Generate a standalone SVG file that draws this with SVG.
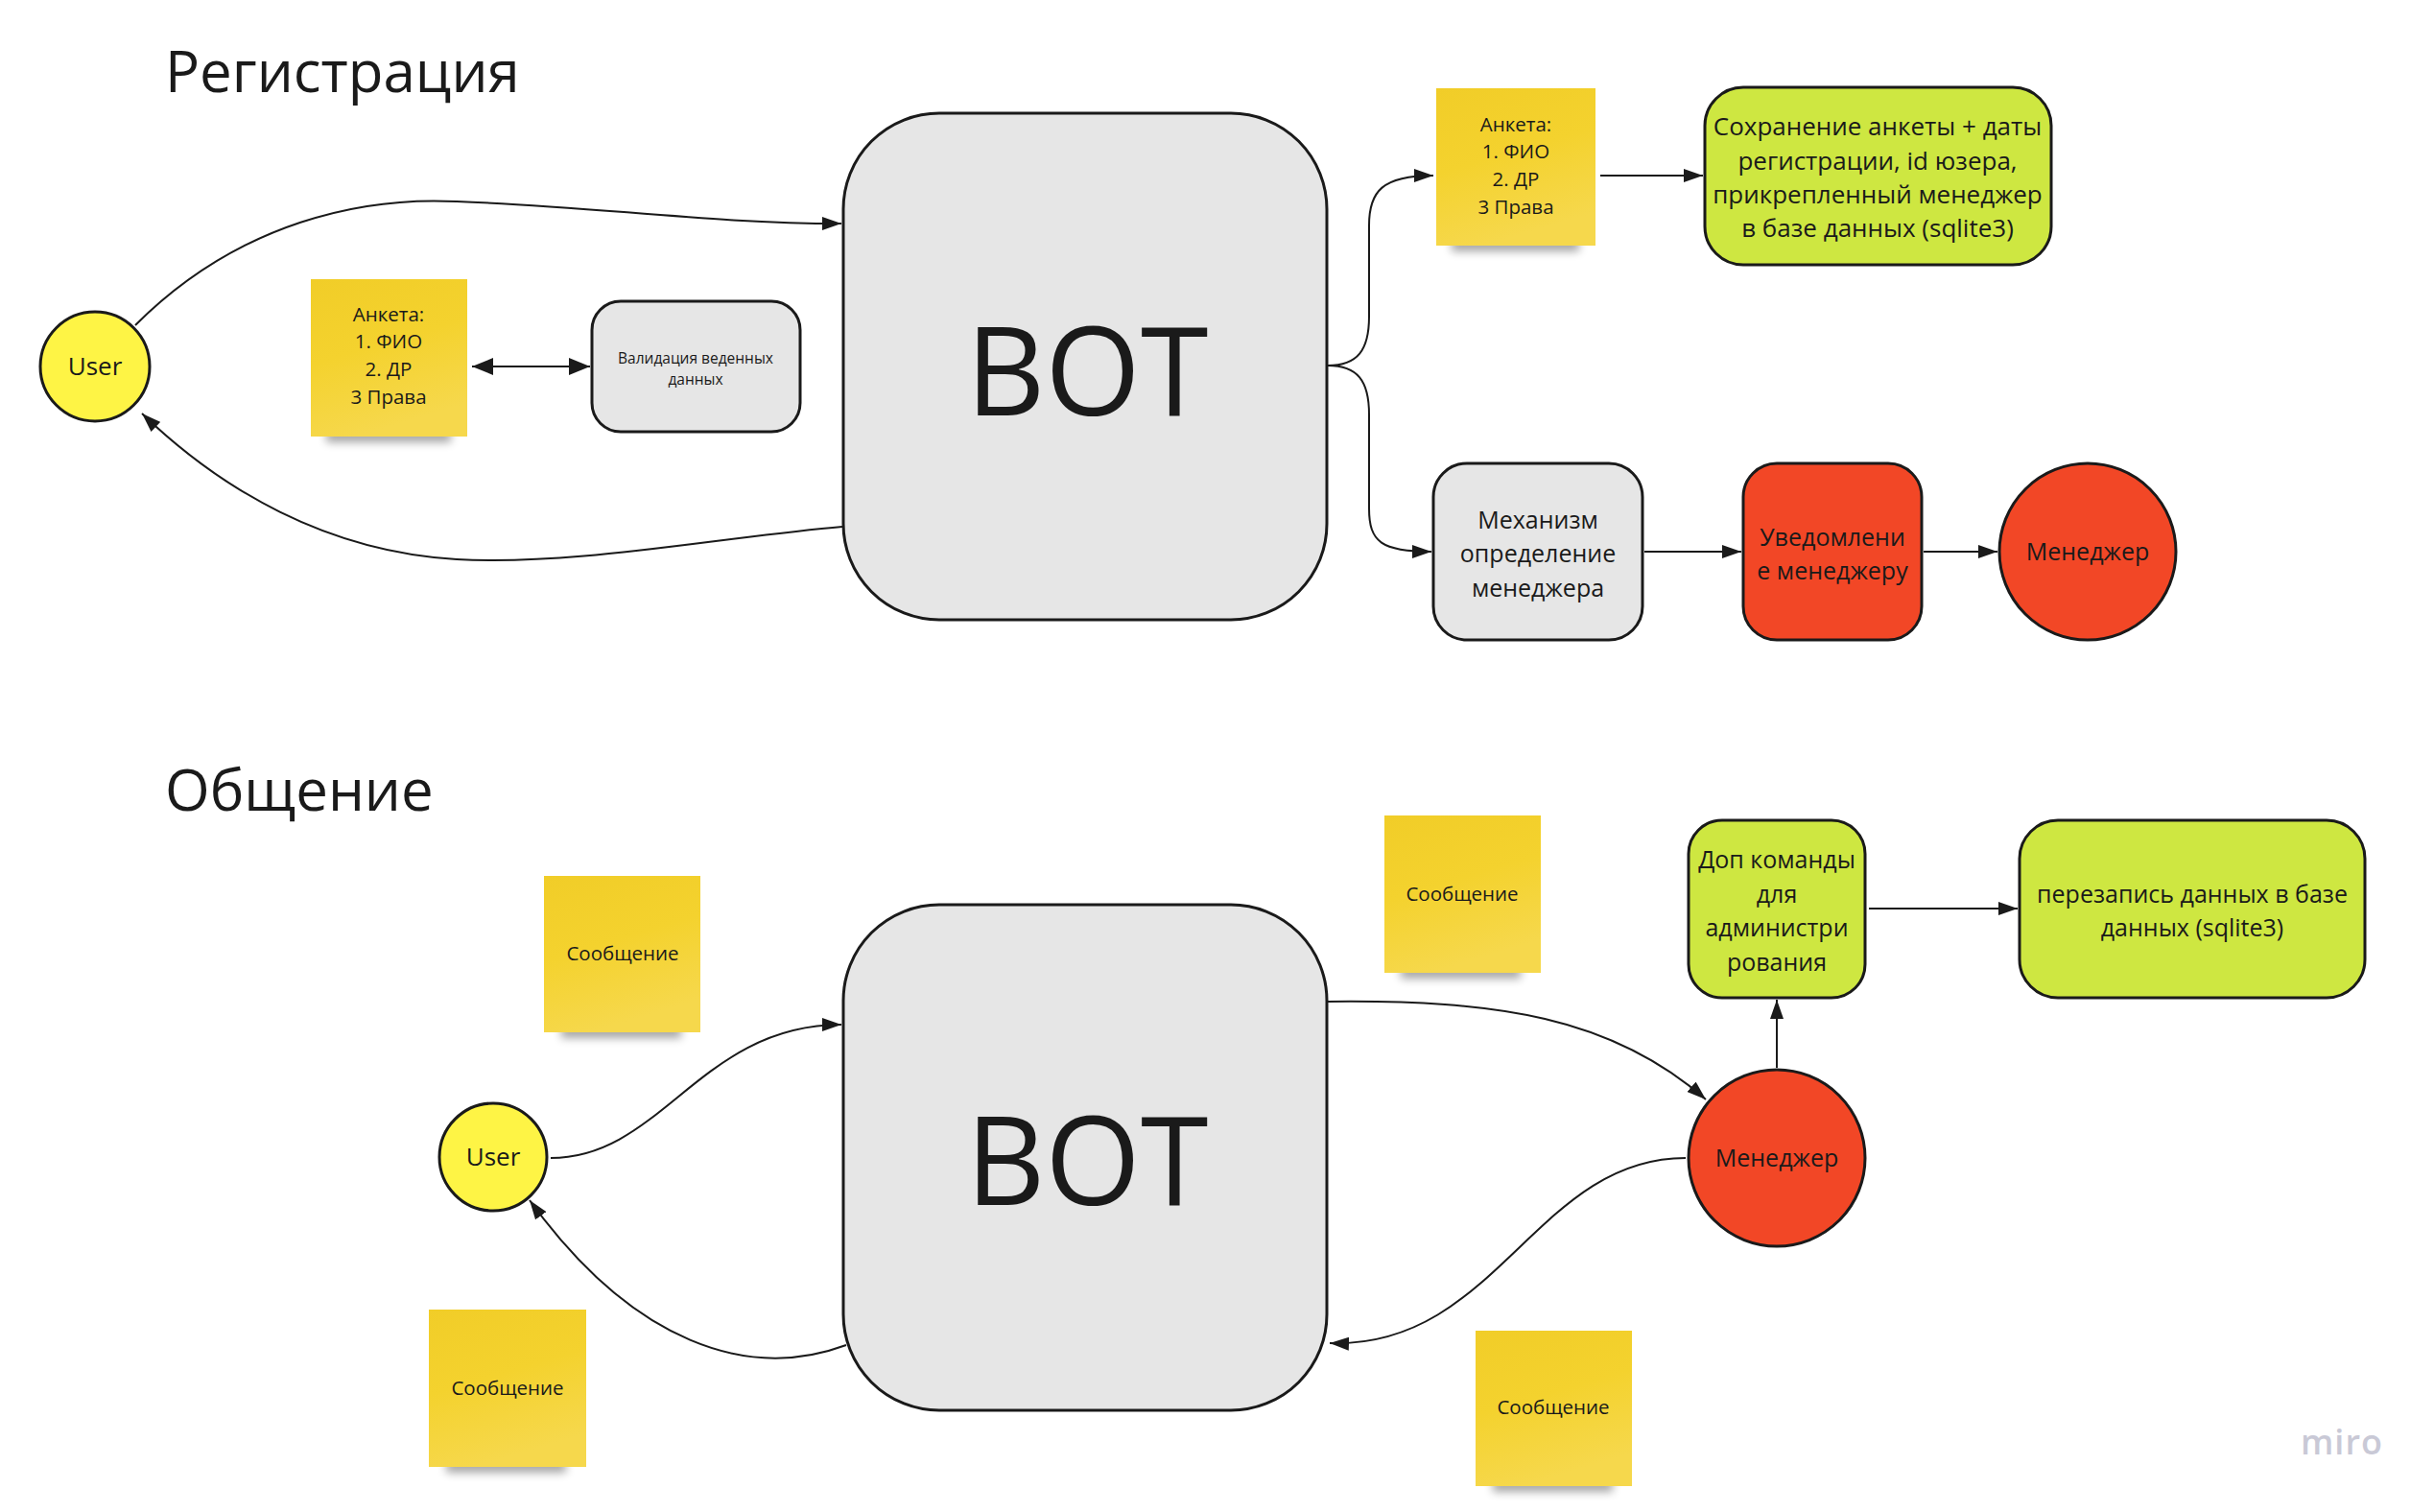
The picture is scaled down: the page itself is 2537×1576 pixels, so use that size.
<svg xmlns="http://www.w3.org/2000/svg" width="2537" height="1576" viewBox="0 0 2537 1576">
<defs>
<style>
text{font-family:"Open Sans","Noto Sans","DejaVu Sans",sans-serif;fill:#1a1a1a}
.node{stroke:#1a1a1a;stroke-width:3}
.gray{fill:#e6e6e6}
.yel{fill:#fef445}
.red{fill:#f24726}
.lime{fill:#cee741}
.sticky{fill:url(#sg)}
.shadow{fill:#000;opacity:0.35;filter:url(#blur)}
.conn path{fill:none;stroke:#1a1a1a;stroke-width:2}
.t26{font-size:26px;text-anchor:middle}
.t25{font-size:25px;text-anchor:middle}
.t20{font-size:20.5px;text-anchor:middle}
.title{font-size:60px}
.bot{font-size:128px;text-anchor:middle}
</style>
<linearGradient id="sg" x1="0" y1="0" x2="0.3" y2="1">
<stop offset="0" stop-color="#f1cd28"/>
<stop offset="0.5" stop-color="#f4d22e"/>
<stop offset="1" stop-color="#f6d84c"/>
</linearGradient>
<filter id="blur" x="-20%" y="-100%" width="140%" height="300%"><feGaussianBlur stdDeviation="5"/></filter>
<marker id="ah" viewBox="0 0 20 14" refX="20" refY="7" markerWidth="20" markerHeight="14" markerUnits="userSpaceOnUse" orient="auto"><path d="M0,0 L20,7 L0,14 z" fill="#1a1a1a"/></marker>
<marker id="ahb" viewBox="0 0 22 18" refX="22" refY="9" markerWidth="22" markerHeight="18" markerUnits="userSpaceOnUse" orient="auto-start-reverse"><path d="M0,0 L22,9 L0,18 z" fill="#1a1a1a"/></marker>
</defs>
<rect width="2537" height="1576" fill="#ffffff"/>

<text class="title" x="172" y="96">Регистрация</text>
<text class="title" x="172" y="845">Общение</text>

<g id="connectors" class="conn">
<path d="M141,339 C250,230 380,205 476,210 C620,215 740,233 877,233" marker-end="url(#ah)"/>
<path d="M878,549 C750,560 600,590 476,583 C340,575 230,510 148,431" marker-end="url(#ah)"/>
<path d="M492,382 L615,382" marker-start="url(#ahb)" marker-end="url(#ahb)"/>
<path d="M1384,381 C1415,381 1427,365 1427,330 L1427,235 C1427,200 1440,183 1494,183" marker-end="url(#ah)"/>
<path d="M1384,381 C1415,381 1427,397 1427,432 L1427,530 C1427,565 1440,575 1492,575" marker-end="url(#ah)"/>
<path d="M1668,183 L1775,183" marker-end="url(#ah)"/>
<path d="M1714,575 L1815,575" marker-end="url(#ah)"/>
<path d="M2005,575 L2082,575" marker-end="url(#ah)"/>
<path d="M574,1207 C690,1207 730,1068 877,1068" marker-end="url(#ah)"/>
<path d="M882,1402 C780,1440 660,1400 552,1251" marker-end="url(#ah)"/>
<path d="M1384,1044 C1560,1042 1680,1060 1778,1146" marker-end="url(#ah)"/>
<path d="M1757,1207 C1600,1207 1560,1406 1386,1400" marker-end="url(#ah)"/>
<path d="M1852,1113 L1852,1042" marker-end="url(#ah)"/>
<path d="M1948,947 L2103,947" marker-end="url(#ah)"/>
</g>

<g id="user1"><circle class="node yel" cx="99" cy="382" r="57"/><text class="t26" x="99" y="391">User</text></g>

<g id="sticky1">
<rect class="shadow" x="340" y="447" width="130" height="14"/>
<rect class="sticky" x="324" y="291" width="163" height="164"/>
<text class="t20" x="405" y="335">Анкета:</text>
<text class="t20" x="405" y="363">1. ФИО</text>
<text class="t20" x="405" y="392">2. ДР</text>
<text class="t20" x="405" y="421">3 Права</text>
</g>

<g id="validation"><rect class="node gray" x="617" y="314" width="217" height="136" rx="30"/>
<text x="725" y="379" style="font-size:15.5px;text-anchor:middle">Валидация веденных</text>
<text x="725" y="401" style="font-size:15.5px;text-anchor:middle">данных</text></g>

<g id="bot1"><rect class="node gray" x="879" y="118" width="504" height="528" rx="100"/><text class="bot" x="1133" y="433">BOT</text></g>

<g id="sticky2">
<rect class="shadow" x="1513" y="248" width="133" height="14"/>
<rect class="sticky" x="1497" y="92" width="166" height="164"/>
<text class="t20" x="1580" y="137">Анкета:</text>
<text class="t20" x="1580" y="165">1. ФИО</text>
<text class="t20" x="1580" y="194">2. ДР</text>
<text class="t20" x="1580" y="223">3 Права</text>
</g>

<g id="save"><rect class="node lime" x="1777" y="91" width="361" height="185" rx="40"/>
<text class="t26" x="1957" y="141">Сохранение анкеты + даты</text>
<text class="t26" x="1957" y="177">регистрации, id юзера,</text>
<text class="t26" x="1957" y="212">прикрепленный менеджер</text>
<text class="t26" x="1957" y="247">в базе данных (sqlite3)</text></g>

<g id="mechanism"><rect class="node gray" x="1494" y="483" width="218" height="184" rx="35"/>
<text class="t25" x="1603" y="551">Механизм</text>
<text class="t25" x="1603" y="586">определение</text>
<text class="t25" x="1603" y="622">менеджера</text></g>

<g id="notify"><rect class="node red" x="1817" y="483" width="186" height="184" rx="35"/>
<text class="t25" x="1910" y="569">Уведомлени</text>
<text class="t25" x="1910" y="604">е менеджеру</text></g>

<g id="manager1"><circle class="node red" cx="2176" cy="575" r="92"/><text class="t25" x="2176" y="584">Менеджер</text></g>

<g id="sticky3">
<rect class="shadow" x="585" y="1068" width="125" height="14"/>
<rect class="sticky" x="567" y="913" width="163" height="163"/>
<text class="t20" x="649" y="1001">Сообщение</text>
</g>

<g id="sticky4">
<rect class="shadow" x="465" y="1521" width="125" height="14"/>
<rect class="sticky" x="447" y="1365" width="164" height="164"/>
<text class="t20" x="529" y="1454">Сообщение</text>
</g>

<g id="sticky5">
<rect class="shadow" x="1460" y="1006" width="125" height="14"/>
<rect class="sticky" x="1443" y="850" width="163" height="164"/>
<text class="t20" x="1524" y="939">Сообщение</text>
</g>

<g id="sticky6">
<rect class="shadow" x="1556" y="1541" width="125" height="14"/>
<rect class="sticky" x="1538" y="1387" width="163" height="162"/>
<text class="t20" x="1619" y="1474">Сообщение</text>
</g>

<g id="user2"><circle class="node yel" cx="514" cy="1206" r="56"/><text class="t26" x="514" y="1215">User</text></g>

<g id="bot2"><rect class="node gray" x="879" y="943" width="504" height="527" rx="100"/><text class="bot" x="1133" y="1256">BOT</text></g>

<g id="admin"><rect class="node lime" x="1760" y="855" width="184" height="185" rx="35"/>
<text class="t25" x="1852" y="905">Доп команды</text>
<text class="t25" x="1852" y="941">для</text>
<text class="t25" x="1852" y="976">администри</text>
<text class="t25" x="1852" y="1012">рования</text></g>

<g id="rewrite"><rect class="node lime" x="2105" y="855" width="360" height="185" rx="40"/>
<text class="t25" x="2285" y="941">перезапись данных в базе</text>
<text class="t25" x="2285" y="976">данных (sqlite3)</text></g>

<g id="manager2"><circle class="node red" cx="1852" cy="1207" r="92"/><text class="t25" x="1852" y="1216">Менеджер</text></g>

<text x="2398" y="1516" style="font-size:36px;font-weight:600;fill:#c9c9d6;letter-spacing:1px">miro</text>
</svg>
